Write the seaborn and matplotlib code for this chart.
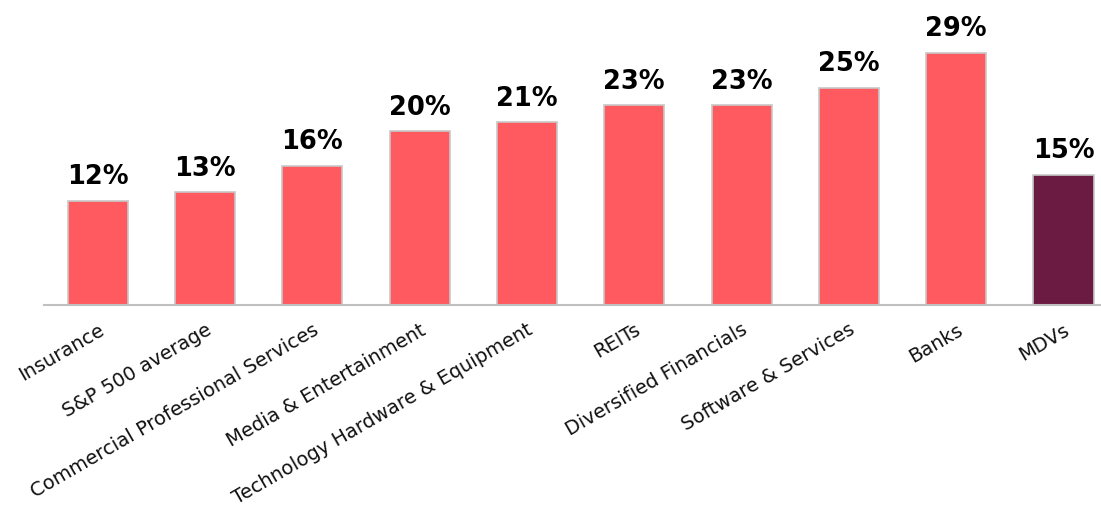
import matplotlib
matplotlib.use("Agg")
import matplotlib.pyplot as plt
import seaborn as sns
import pandas as pd

categories = ["Insurance", "S&P 500 average", "Commercial Professional Services",
              "Media & Entertainment", "Technology Hardware & Equipment", "REITs",
              "Diversified Financials", "Software & Services", "Banks", "MDVs"]
values = [12, 13, 16, 20, 21, 23, 23, 25, 29, 15]
highlight = "MDVs"

sns.set_theme(style="white")
plt.rcParams["font.family"] = ["DejaVu Sans"]

df = pd.DataFrame({"category": categories, "value": values})
palette = {c: ("#6B1A41" if c == highlight else "#FF5A5F") for c in categories}

fig = plt.figure(figsize=(11.01, 5.09), dpi=100)
ax = fig.add_axes([44 / 1101, 204 / 509, 1056 / 1101, 287 / 509])

sns.barplot(data=df, x="category", y="value", hue="category", palette=palette,
            saturation=1, width=0.56, edgecolor="#c8c8c8", linewidth=1.2,
            legend=False, ax=ax)

for i, v in enumerate(values):
    ax.text(i, v + 1.2, f"{v}%", ha="center", va="bottom",
            fontsize=18.5, fontweight="bold", color="black")

ax.set_xlim(-0.5, 9.34)
ax.set_ylim(0, 33)
ax.set_xlabel("")
ax.set_ylabel("")
ax.set_yticks([])
for s in ["top", "right", "left"]:
    ax.spines[s].set_visible(False)
ax.spines["bottom"].set_color("#c0c0c0")
ax.spines["bottom"].set_linewidth(1.5)
ax.tick_params(axis="x", length=0, pad=11)
ax.set_xticks(range(len(categories)))
ax.set_xticklabels(categories, rotation=30, ha="right", rotation_mode="anchor",
                   fontsize=14, color="#111111")

fig.savefig("out.png", dpi=100)
